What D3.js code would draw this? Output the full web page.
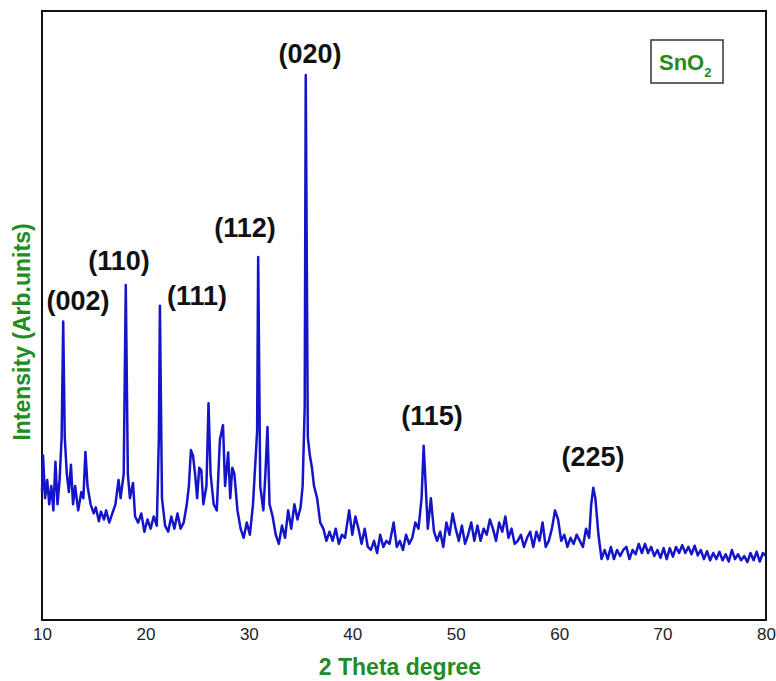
<!DOCTYPE html>
<html>
<head>
<meta charset="utf-8">
<script src="https://cdn.jsdelivr.net/npm/d3@7"></script>
<style>
body { margin: 0; background: #fff; }
text { font-family: "Liberation Sans Narrow", "Liberation Sans", Arial, sans-serif; }
</style>
</head>
<body>
<div id="chart"></div>
<script>
// XRD pattern of SnO2: [2theta, intensity] in four stretches
const scanLow = [[10.0,21],[10.1,27],[10.3,20],[10.5,23],[10.7,19],[10.9,22],[11.1,18],[11.3,26],[11.5,19],[11.7,23],[11.9,30],[12.05,49],[12.2,30],[12.4,24],[12.6,21],[12.8,25.5],[13.0,19],[13.2,22],[13.5,18],[13.8,21],[14.0,20],[14.2,27.6],[14.4,22],[14.7,19],[15.0,17.5],[15.2,18.5],[15.5,16.2],[15.7,17.8],[16.0,16.5],[16.2,18],[16.5,16],[16.8,17.5],[17.1,19],[17.4,23],[17.6,20],[17.9,24],[18.1,55],[18.3,24],[18.5,20],[18.8,22.5],[19.0,17],[19.3,16],[19.6,17.5],[19.9,14.5],[20.2,16.5],[20.5,15],[20.8,17],[21.1,15.5],[21.3,30],[21.4,51.6],[21.6,20],[21.9,15.5],[22.2,14.5],[22.5,17],[22.8,15],[23.1,17.5],[23.4,15],[23.7,16],[24.0,19]];
const scanMain = [[24.2,22],[24.4,27.9],[24.6,27],[24.8,24],[25.0,20],[25.2,25],[25.4,24.6],[25.6,19],[25.9,22],[26.1,35.6],[26.3,24],[26.6,19],[26.9,18],[27.2,29.6],[27.5,32],[27.7,22],[28.0,27.5],[28.2,20],[28.4,25],[28.6,24],[28.9,18],[29.2,15],[29.5,13.5],[29.8,16],[30.1,14],[30.4,19],[30.6,25],[30.8,31],[30.9,59.6],[31.1,22],[31.4,18],[31.6,24],[31.8,31.7],[32.0,19],[32.3,17],[32.6,14],[32.9,12.5],[33.2,15.5],[33.5,13.5],[33.8,18],[34.1,15],[34.4,19],[34.7,16.5],[35.0,18.5],[35.2,22],[35.4,35],[35.5,89.5],[35.7,30],[35.9,27],[36.1,25],[36.3,22],[36.6,20],[36.9,16]];
const scanMid = [[37.2,15],[37.5,13],[37.8,14.5],[38.1,13],[38.4,15],[38.7,12.5],[39.0,14],[39.3,13.5],[39.7,18],[40.0,14],[40.3,17],[40.6,15],[40.9,12.5],[41.2,15],[41.5,12],[41.8,11.5],[42.1,13],[42.4,11],[42.7,14],[43.0,12],[43.3,13],[43.6,12.5],[44.0,16],[44.3,12],[44.6,13],[44.9,11.5],[45.2,14],[45.5,12.5],[45.8,13.5],[46.1,16],[46.4,15],[46.7,20],[46.9,28.6],[47.1,22],[47.3,15],[47.6,20],[47.9,14.5],[48.2,13],[48.5,14.5],[48.8,12],[49.1,16],[49.4,14],[49.7,17.5],[50.0,15],[50.3,13],[50.6,15.5],[50.9,12.5],[51.2,14],[51.5,16],[51.8,13],[52.1,15.5],[52.4,13],[52.7,15],[53.0,14],[53.3,16.5],[53.6,15],[53.9,13],[54.2,16],[54.5,14.5],[54.8,17],[55.1,13.5],[55.4,15],[55.7,12.5],[56.0,13],[56.3,14],[56.6,12],[56.9,13.5],[57.2,14.5],[57.5,12],[57.8,14.5],[58.1,13],[58.4,16],[58.7,12],[59.0,13],[59.3,15],[59.6,18],[59.9,16.5],[60.2,13],[60.5,14],[60.8,12],[61.1,13.5],[61.4,12.5],[61.7,14],[62.0,13],[62.3,12],[62.6,15],[62.9,13.5],[63.1,19],[63.3,21.7],[63.5,20],[63.8,14],[64.1,10]];
const scanHigh = [[64.4,11.5],[64.7,10],[65.0,12],[65.3,10],[65.6,11.5],[65.9,10.5],[66.2,11.5],[66.5,12],[66.8,10],[67.1,11.5],[67.4,10.8],[67.7,12.5],[68.0,11],[68.3,12.5],[68.6,11],[68.9,12],[69.2,10.5],[69.5,11.5],[69.8,10.2],[70.1,11.8],[70.4,10],[70.7,11.8],[71.0,10.4],[71.3,12],[71.6,11],[71.9,12.3],[72.2,11],[72.5,12],[72.8,10.8],[73.1,12.2],[73.4,10.6],[73.7,11.5],[74.0,10],[74.3,11.3],[74.6,9.8],[74.9,11],[75.2,10],[75.5,11.2],[75.8,9.8],[76.1,10.8],[76.4,9.6],[76.7,11.5],[77.0,10],[77.3,10.8],[77.6,9.8],[77.9,10.5],[78.2,9.5],[78.5,11],[78.8,9.8],[79.1,11.2],[79.4,9.6],[79.7,11],[80.0,10.5]];

const peakLabels = ["(002)","(110)","(111)","(112)","(020)","(115)","(225)"];
const labelX = [78,119,197,245,310,432,593];
const labelY = [310,270,305,237,63,425,466];
const xTicks = [10,20,30,40,50,60,70,80];

const W = 776, H = 681;
const m = {left: 42, right: 10, top: 11, bottom: 61};
const svg = d3.select("#chart").append("svg").attr("width", W).attr("height", H);

const x = d3.scaleLinear().domain([10, 80]).range([m.left, W - m.right]);
const y = d3.scaleLinear().domain([0, 100]).range([H - m.bottom, m.top]);

// frame
svg.append("rect")
  .attr("x", m.left).attr("y", m.top)
  .attr("width", W - m.left - m.right).attr("height", H - m.top - m.bottom)
  .attr("fill", "none").attr("stroke", "#111").attr("stroke-width", 2);

// x axis (labels only)
const xAxis = svg.append("g")
  .attr("transform", `translate(0,${H - m.bottom})`)
  .call(d3.axisBottom(x).tickValues(xTicks).tickSize(0).tickPadding(8));
xAxis.select(".domain").remove();
xAxis.selectAll("text").attr("font-size", 17).attr("fill", "#222")
  .style("font-family", "'Liberation Sans', Arial, sans-serif");

// pattern
const pts = scanLow.concat(scanMain, scanMid, scanHigh);
svg.append("path")
  .datum(pts)
  .attr("fill", "none").attr("stroke", "#1414c8").attr("stroke-width", 2.5)
  .attr("stroke-linejoin", "round")
  .attr("d", d3.line().x(d => x(d[0])).y(d => y(d[1])));

// peak labels
svg.selectAll(".pk").data(peakLabels).enter().append("text")
  .attr("x", (d, i) => labelX[i]).attr("y", (d, i) => labelY[i])
  .attr("text-anchor", "middle").attr("font-size", 27).attr("font-weight", "bold")
  .attr("fill", "#111").text(d => d);

// legend box
svg.append("rect").attr("x", 651).attr("y", 40).attr("width", 72).attr("height", 43)
  .attr("fill", "#fff").attr("stroke", "#333").attr("stroke-width", 1.5);
const lg = svg.append("text").attr("x", 659).attr("y", 70)
  .attr("font-size", 22).attr("font-weight", "bold").attr("fill", "#228b22");
lg.append("tspan").text("SnO");
lg.append("tspan").attr("font-size", 13).attr("dy", 7).text("2");

// axis titles
svg.append("text").attr("x", 400).attr("y", 675).attr("text-anchor", "middle")
  .attr("font-size", 23).attr("font-weight", "bold").attr("fill", "#228b22")
  .text("2 Theta degree");
svg.append("text").attr("transform", "translate(30,332) rotate(-90)")
  .attr("text-anchor", "middle").attr("font-size", 23).attr("font-weight", "bold")
  .attr("fill", "#228b22").text("Intensity (Arb.units)");
</script>
</body>
</html>
